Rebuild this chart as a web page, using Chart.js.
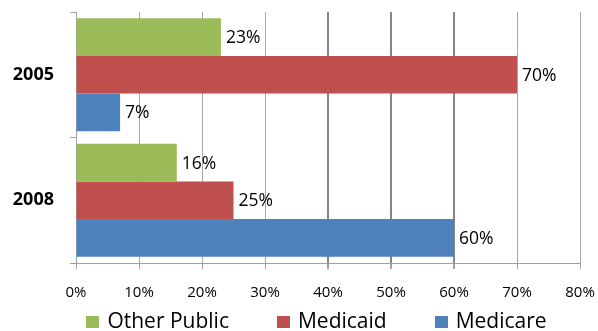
<!DOCTYPE html>
<html>
<head>
<meta charset="utf-8">
<script src="https://cdn.jsdelivr.net/npm/chart.js@4/dist/chart.umd.min.js"></script>
<style>
  html, body { margin: 0; padding: 0; background: #fff; }
  #wrap { width: 598px; height: 331px; position: relative; }
</style>
</head>
<body>
<div id="wrap"><canvas id="c" width="598" height="331"></canvas></div>
<script>
const categories = ['2005', '2008'];
const seriesNames = ['Other Public', 'Medicaid', 'Medicare'];
const otherPublic = [23, 16];
const medicaid = [70, 25];
const medicare = [7, 60];
const xTicks = [0, 10, 20, 30, 40, 50, 60, 70, 80];
const colors = ['#9BBB59', '#C0504D', '#4F81BD'];

const FONT = '"Open Sans", "Noto Sans", sans-serif';

const dataLabels = {
  id: 'dataLabels',
  afterDatasetsDraw(chart) {
    const ctx = chart.ctx;
    ctx.save();
    ctx.font = '17.5px ' + FONT;
    ctx.fillStyle = '#000';
    ctx.textAlign = 'left';
    ctx.textBaseline = 'middle';
    chart.data.datasets.forEach((ds, di) => {
      const meta = chart.getDatasetMeta(di);
      meta.data.forEach((el, i) => {
        ctx.fillText(ds.data[i] + '%', el.x + 5, el.y + 1);
      });
    });
    ctx.restore();
  }
};

const customLegend = {
  id: 'customLegend',
  afterDraw(chart) {
    const ctx = chart.ctx;
    ctx.save();
    ctx.font = '21px ' + FONT;
    const box = 13, gap = 8, spacing = 48;
    const items = chart.data.datasets.map(d => ({
      text: d.label, color: d.backgroundColor,
      w: box + gap + ctx.measureText(d.label).width
    }));
    const total = items.reduce((s, it) => s + it.w, 0) + spacing * (items.length - 1);
    let x = 316.5 - total / 2;
    const y = 321;
    items.forEach(it => {
      ctx.fillStyle = it.color;
      ctx.fillRect(Math.round(x), y - 5, box, 12);
      ctx.fillStyle = '#000';
      ctx.textBaseline = 'middle';
      ctx.textAlign = 'left';
      ctx.fillText(it.text, x + box + gap, y + 1);
      x += it.w + spacing;
    });
    ctx.restore();
  }
};

const seriesData = [otherPublic, medicaid, medicare];

function noPad(scale) {
  scale.paddingLeft = 0; scale.paddingRight = 0;
  scale.paddingTop = 0; scale.paddingBottom = 0;
}

new Chart(document.getElementById('c'), {
  type: 'bar',
  data: {
    labels: categories,
    datasets: seriesNames.map((name, i) => ({
      label: name,
      data: seriesData[i],
      backgroundColor: colors[i],
      borderWidth: 0,
      categoryPercentage: 0.9,
      barPercentage: 1.0
    }))
  },
  options: {
    indexAxis: 'y',
    responsive: false,
    animation: false,
    layout: { padding: { top: 12, right: 18, bottom: 0, left: 0 } },
    plugins: {
      legend: { display: false },
      tooltip: { enabled: false }
    },
    scales: {
      x: {
        min: 0, max: 80,
        afterFit(scale) { scale.height = 68; noPad(scale); },
        afterBuildTicks(scale) { scale.ticks = xTicks.map(v => ({ value: v })); },
        ticks: {
          callback: v => v + '%',
          font: { family: FONT, size: 15 },
          color: '#000',
          padding: 15,
          maxRotation: 0
        },
        grid: {
          color: ctx => {
            const v = ctx.tick ? ctx.tick.value : 0;
            return (v >= 40 && v <= 60) ? '#858585' : '#a8a8a8';
          },
          lineWidth: ctx => {
            const v = ctx.tick ? ctx.tick.value : 0;
            return (v >= 40 && v <= 60) ? 2 : 1;
          },
          tickLength: 6,
          tickColor: '#a0a0a0'
        },
        border: { display: true, color: '#a0a0a0', width: 1 }
      },
      y: {
        afterFit(scale) { scale.width = 76; noPad(scale); },
        ticks: {
          font: { family: FONT, size: 18, weight: 'bold' },
          color: '#000',
          padding: 16
        },
        grid: {
          drawOnChartArea: false,
          offset: true,
          tickLength: 6,
          color: '#a0a0a0'
        },
        border: { display: true, color: '#a0a0a0', width: 1 }
      }
    }
  },
  plugins: [dataLabels, customLegend]
});
</script>
</body>
</html>
